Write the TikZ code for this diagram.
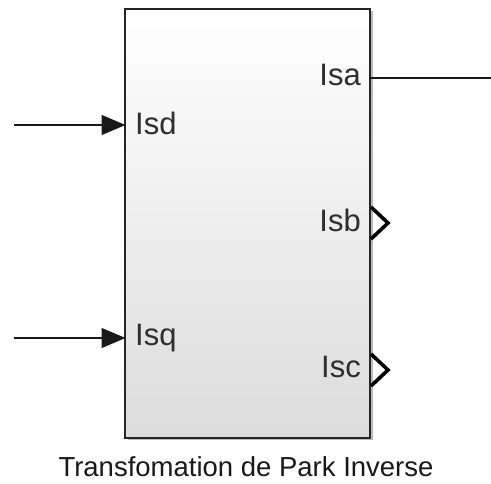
\documentclass[tikz,border=0pt]{standalone}
\usepackage{fontspec}
\setmainfont{Liberation Sans}
\usetikzlibrary{arrows.meta,shadows}
\begin{document}
\begin{tikzpicture}[x=1pt,y=-1pt,
  block/.style={draw=black!85,line width=1.6pt,top color=white,bottom color={rgb,255:red,220;green,220;blue,220},
    minimum width=245pt,minimum height=429pt,inner sep=0pt,
    drop shadow={shadow xshift=2.5pt,shadow yshift=-2.5pt,opacity=0.45,fill=black!60}},
  lbl/.style={text=black!82,font=\fontsize{31}{36}\selectfont,inner sep=0pt},
  captext/.style={text=black!90,font=\fontsize{27.5}{32}\selectfont,inner sep=0pt},
  sig/.style={draw=black!90,line width=1.3pt},
  inarrow/.style={sig,-{Triangle[length=24pt,width=20pt]}},
  chev/.style={draw=black,line width=3.6pt,line join=miter}]
\useasboundingbox (0,0) rectangle (491,484);
\node[block] (blk) at (247.5,223.5) {};
% input ports
\coordinate (s1) at (14,125);
\coordinate (p1) at (125.5,125);
\coordinate (s2) at (14,338);
\coordinate (p2) at (125.5,338);
\draw[inarrow] (s1) -- (p1);
\draw[inarrow] (s2) -- (p2);
% output Isa
\coordinate (o1) at (370,78);
\coordinate (e1) at (491,78);
\draw[sig] (o1) -- (e1);
% output chevrons
\coordinate (o2) at (370,223);
\coordinate (o3) at (370,370);
\draw[chev] ([shift={(1,-16)}]o2) -- ([shift={(18,0)}]o2) -- ([shift={(1,16)}]o2);
\draw[chev] ([shift={(1,-16)}]o3) -- ([shift={(18,0)}]o3) -- ([shift={(1,16)}]o3);
% labels
\node[lbl,anchor=base west] (isd) at (135,135) {Isd};
\node[lbl,anchor=base west] (isq) at (135,346) {Isq};
\node[lbl,anchor=base east] (isa) at (361,86) {Isa};
\node[lbl,anchor=base east] (isb) at (361,232) {Isb};
\node[lbl,anchor=base east] (isc) at (361,378) {Isc};
\node[captext,anchor=base] (title) at (246,477) {Transfomation de Park Inverse};
\end{tikzpicture}
\end{document}
